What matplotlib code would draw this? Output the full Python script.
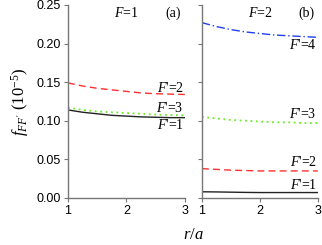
import matplotlib
matplotlib.use("Agg")
import matplotlib.pyplot as plt

plt.rcParams['mathtext.fontset'] = 'custom'
plt.rcParams['mathtext.rm'] = 'Liberation Serif'
plt.rcParams['mathtext.it'] = 'Liberation Serif:italic'
plt.rcParams['font.family'] = 'Liberation Sans'

r = [1.0, 1.25, 1.5, 1.75, 2.0, 2.25, 2.5, 2.75, 3.0]

# panel (a), F=1
a_f2 = [0.149, 0.145, 0.142, 0.140, 0.138, 0.136, 0.135, 0.1345, 0.134]
a_f3 = [0.117, 0.114, 0.112, 0.111, 0.110, 0.109, 0.108, 0.1075, 0.107]
a_f1 = [0.114, 0.111, 0.109, 0.107, 0.106, 0.105, 0.1045, 0.104, 0.104]

# panel (b), F=2
b_f4 = [0.227, 0.222, 0.218, 0.215, 0.213, 0.211, 0.210, 0.209, 0.208]
b_f3 = [0.105, 0.103, 0.101, 0.100, 0.099, 0.098, 0.098, 0.097, 0.097]
b_f2 = [0.038, 0.037, 0.036, 0.0355, 0.035, 0.035, 0.035, 0.035, 0.035]
b_f1 = [0.008, 0.0078, 0.0075, 0.0072, 0.007, 0.007, 0.007, 0.007, 0.007]

fig = plt.figure(figsize=(3.22, 2.45), dpi=100)
axa = fig.add_axes([0.211, 0.192, 0.363, 0.788])
axb = fig.add_axes([0.627, 0.192, 0.360, 0.788])

serif = 'Liberation Serif'

axa.plot(r, a_f2, color='#ff3030', ls=(0, (5, 3)), lw=1)
axa.plot(r, a_f3, color='#66ee22', ls=(0, (1, 2)), lw=1.3)
axa.plot(r, a_f1, color='#222222', ls='-', lw=1)

axb.plot(r, b_f4, color='#2040ee', ls=(0, (6, 2, 1, 2)), lw=1)
axb.plot(r, b_f3, color='#66ee22', ls=(0, (1, 2)), lw=1.3)
axb.plot(r, b_f2, color='#ff3030', ls=(0, (5, 3)), lw=1)
axb.plot(r, b_f1, color='#222222', ls='-', lw=1)

# curve labels
for ax, labels in [(axa, [("2", 0.143), ("3", 0.117), ("1", 0.094)]),
                   (axb, [("4", 0.198), ("3", 0.109), ("2", 0.046), ("1", 0.017)])]:
    for n, y in labels:
        ax.text(2.98, y, "$F$'=" + n, ha='right', va='center', fontsize=10, family=serif)

axa.text(2.0, 0.239, "$F$=1", ha='center', va='center', fontsize=10, family=serif)
axa.text(2.8, 0.239, "(a)", ha='center', va='center', fontsize=10, family=serif)
axb.text(2.0, 0.239, "$F$=2", ha='center', va='center', fontsize=10, family=serif)
axb.text(2.8, 0.239, "(b)", ha='center', va='center', fontsize=10, family=serif)

for ax in (axa, axb):
    ax.set_xlim(1, 3)
    ax.set_ylim(0, 0.25)
    ax.set_xticks([1, 2, 3])
    ax.set_yticks([0, 0.05, 0.10, 0.15, 0.20, 0.25])
    ax.spines['top'].set_visible(False)
    ax.spines['right'].set_visible(False)
    for s in ('left', 'bottom'):
        ax.spines[s].set_color('#777777')
        ax.spines[s].set_linewidth(1)
    ax.tick_params(direction='out', length=3, color='#777777', labelsize=9, pad=2)

axa.set_yticklabels(['0.00', '0.05', '0.10', '0.15', '0.20', '0.25'])
axb.set_yticklabels([])

axa.set_ylabel("$f_{FF'}$ (10$^{-5}$)", fontsize=12, family=serif, labelpad=4)
fig.text(0.6, 0.04, "$r/a$", ha='center', va='center', fontsize=12, family=serif)

fig.savefig("out.png", dpi=100)
